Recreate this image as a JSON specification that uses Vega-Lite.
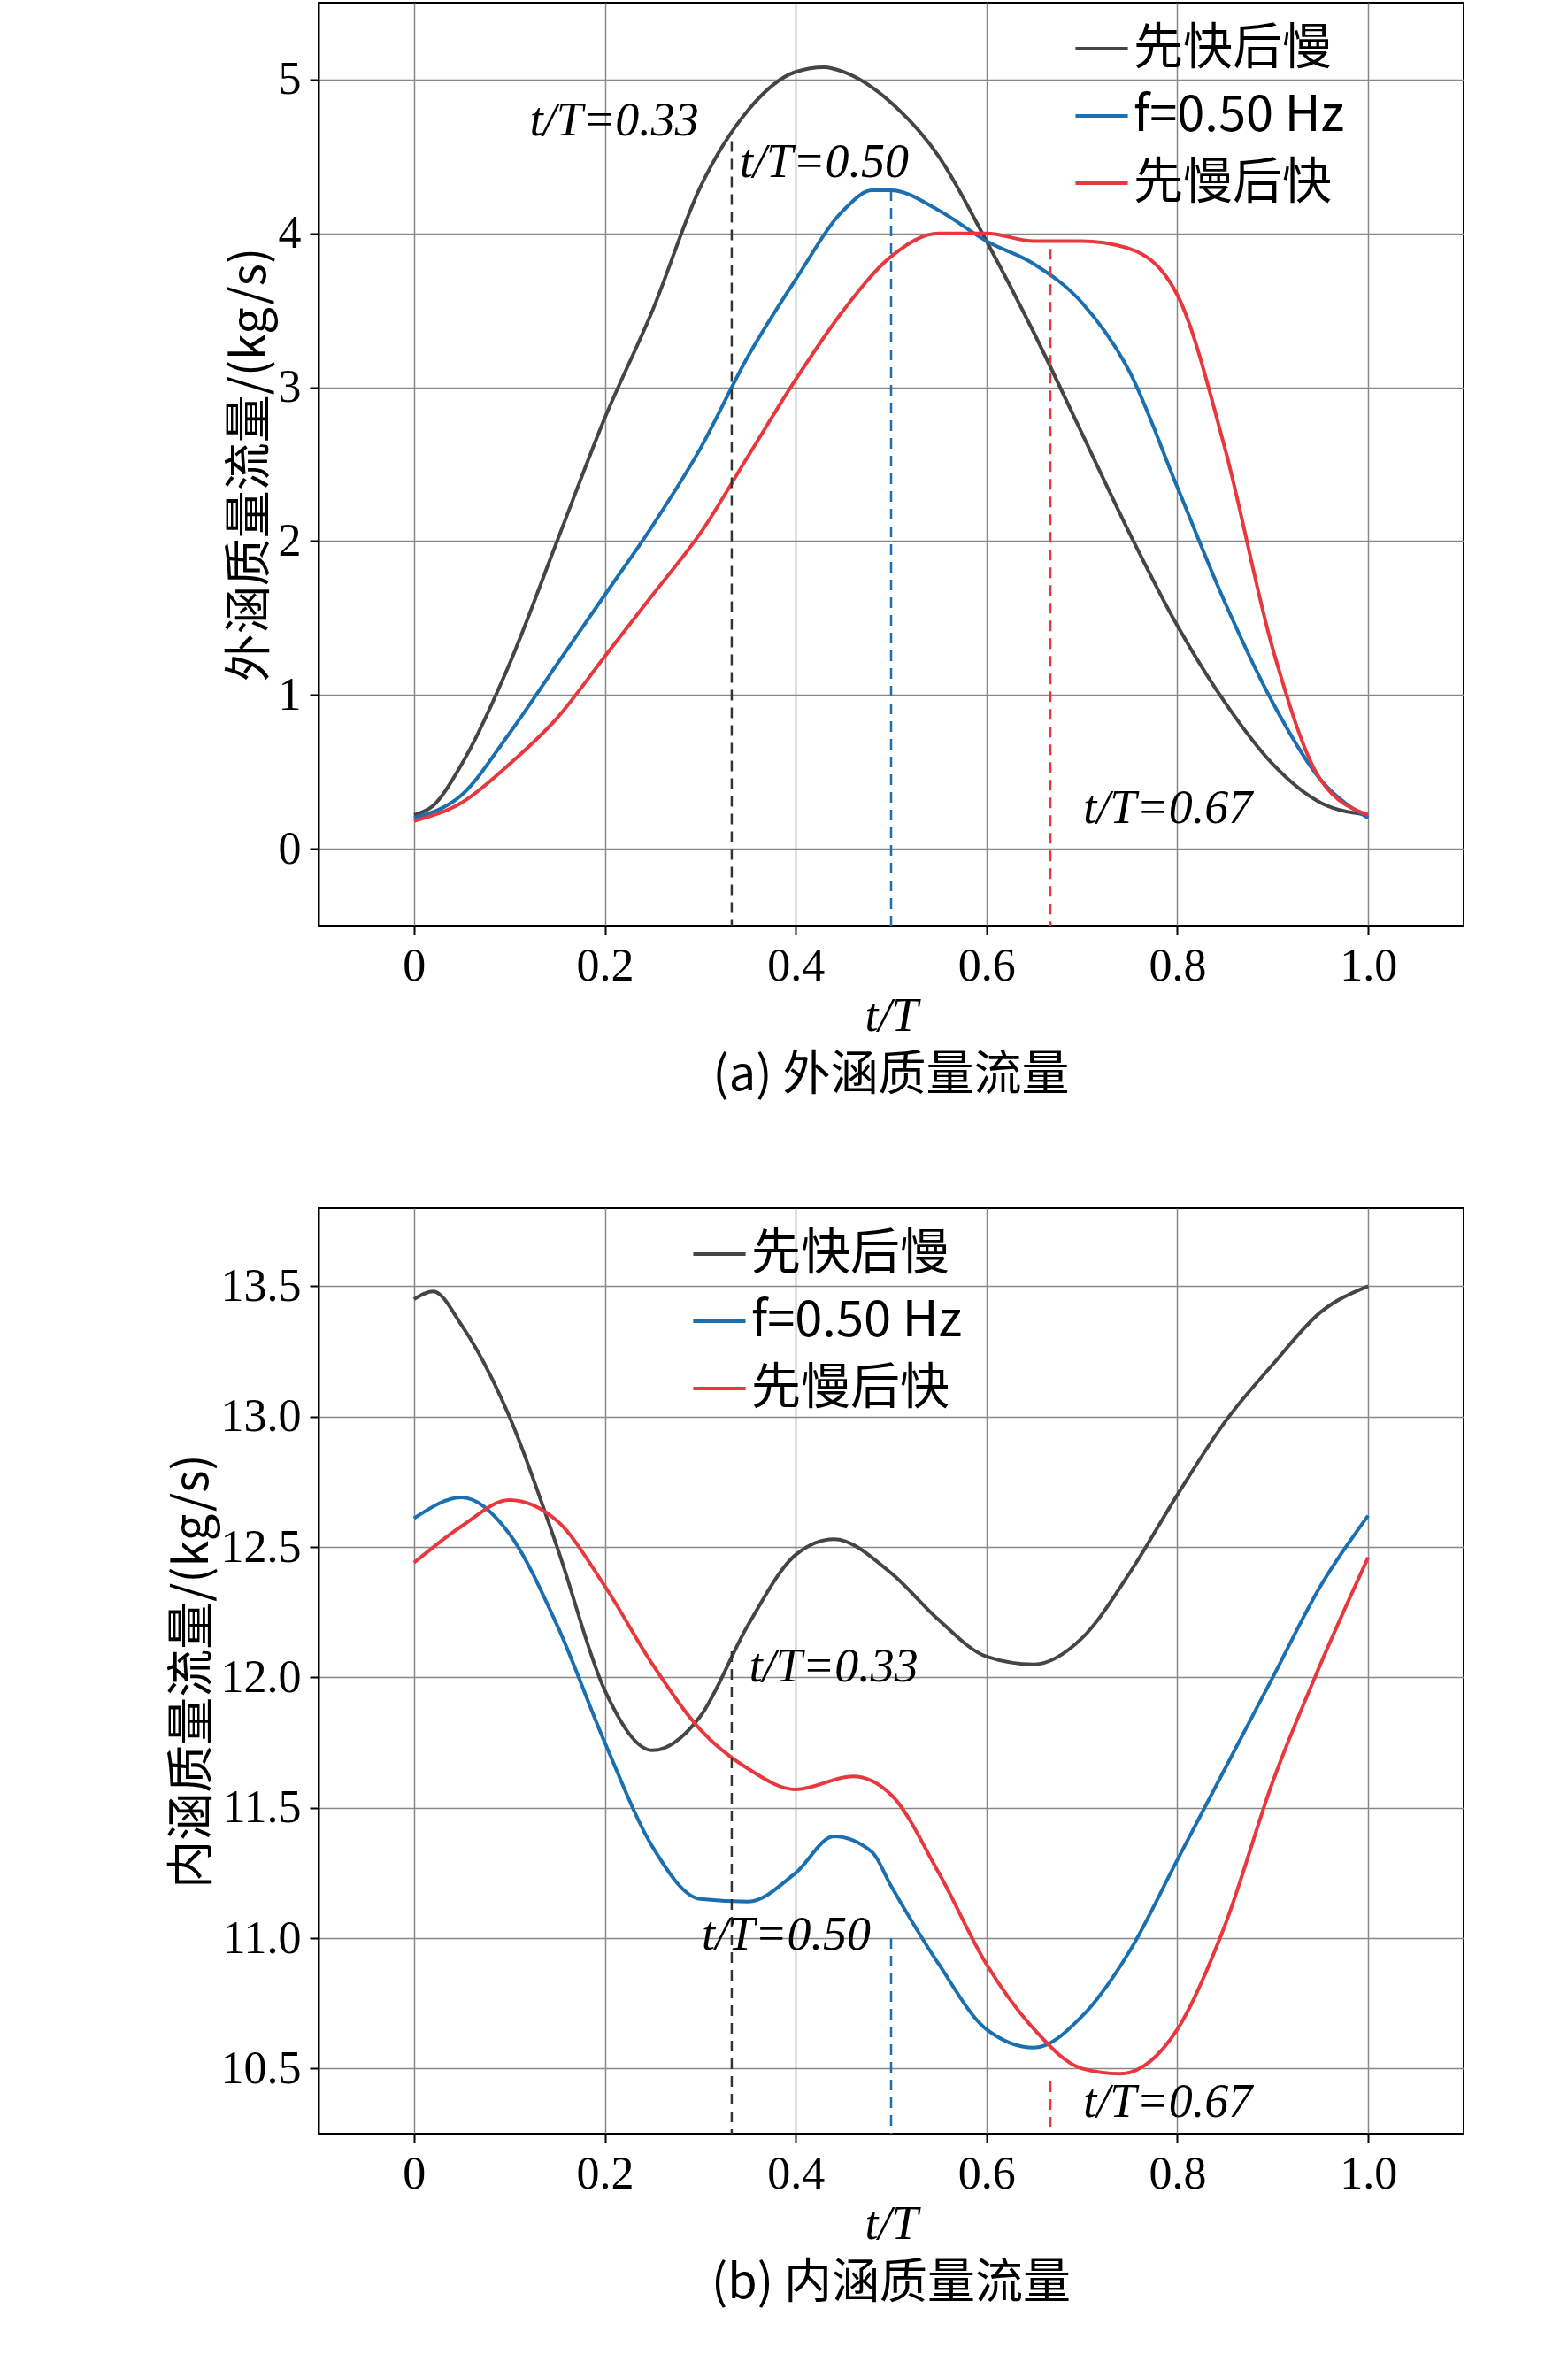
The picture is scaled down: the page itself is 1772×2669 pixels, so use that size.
{"$schema":"https://vega.github.io/schema/vega-lite/v6.json","background":"white","padding":{"left":190,"top":2,"right":10,"bottom":10},
"config":{"font":"Liberation Serif","view":{"stroke":"black","strokeWidth":2},
"axis":{"labelFont":"Liberation Serif","titleFont":"Liberation Serif","labelFontSize":52,"titleFontSize":54,"titleFontWeight":"normal","labelColor":"black","titleColor":"black","domainColor":"black","domainWidth":2,"tickColor":"black","tickWidth":2,"tickSize":10,"gridColor":"#999","gridWidth":1.5,"labelPadding":10},
"legend":{"labelFont":"Noto Sans CJK SC","labelFontSize":56,"labelColor":"black","symbolType":"stroke","symbolSize":3500,"symbolStrokeWidth":4,"rowPadding":16,"labelLimit":600},
"title":{"font":"Noto Sans CJK SC","fontSize":54,"fontWeight":"normal","color":"black","orient":"bottom","offset":14}},
"datasets":{
"a":[
{"s":"先快后慢","x":0,"y":0.22},{"s":"先快后慢","x":0.02,"y":0.28},{"s":"先快后慢","x":0.05,"y":0.55},{"s":"先快后慢","x":0.1,"y":1.2},{"s":"先快后慢","x":0.15,"y":2.0},{"s":"先快后慢","x":0.2,"y":2.8},{"s":"先快后慢","x":0.25,"y":3.5},{"s":"先快后慢","x":0.3,"y":4.3},{"s":"先快后慢","x":0.35,"y":4.8},{"s":"先快后慢","x":0.4,"y":5.05},{"s":"先快后慢","x":0.43,"y":5.08},{"s":"先快后慢","x":0.45,"y":5.05},{"s":"先快后慢","x":0.5,"y":4.85},{"s":"先快后慢","x":0.55,"y":4.5},{"s":"先快后慢","x":0.6,"y":3.95},{"s":"先快后慢","x":0.65,"y":3.35},{"s":"先快后慢","x":0.7,"y":2.7},{"s":"先快后慢","x":0.75,"y":2.05},{"s":"先快后慢","x":0.8,"y":1.45},{"s":"先快后慢","x":0.85,"y":0.95},{"s":"先快后慢","x":0.9,"y":0.55},{"s":"先快后慢","x":0.95,"y":0.3},{"s":"先快后慢","x":1.0,"y":0.22},
{"s":"f=0.50 Hz","x":0,"y":0.2},{"s":"f=0.50 Hz","x":0.05,"y":0.35},{"s":"f=0.50 Hz","x":0.1,"y":0.75},{"s":"f=0.50 Hz","x":0.15,"y":1.2},{"s":"f=0.50 Hz","x":0.2,"y":1.65},{"s":"f=0.50 Hz","x":0.25,"y":2.1},{"s":"f=0.50 Hz","x":0.3,"y":2.6},{"s":"f=0.50 Hz","x":0.35,"y":3.2},{"s":"f=0.50 Hz","x":0.4,"y":3.7},{"s":"f=0.50 Hz","x":0.45,"y":4.15},{"s":"f=0.50 Hz","x":0.48,"y":4.28},{"s":"f=0.50 Hz","x":0.5,"y":4.28},{"s":"f=0.50 Hz","x":0.55,"y":4.15},{"s":"f=0.50 Hz","x":0.6,"y":3.95},{"s":"f=0.50 Hz","x":0.65,"y":3.8},{"s":"f=0.50 Hz","x":0.7,"y":3.55},{"s":"f=0.50 Hz","x":0.75,"y":3.1},{"s":"f=0.50 Hz","x":0.8,"y":2.35},{"s":"f=0.50 Hz","x":0.85,"y":1.6},{"s":"f=0.50 Hz","x":0.9,"y":0.95},{"s":"f=0.50 Hz","x":0.95,"y":0.45},{"s":"f=0.50 Hz","x":1.0,"y":0.2},
{"s":"先慢后快","x":0,"y":0.18},{"s":"先慢后快","x":0.05,"y":0.3},{"s":"先慢后快","x":0.1,"y":0.55},{"s":"先慢后快","x":0.15,"y":0.85},{"s":"先慢后快","x":0.2,"y":1.25},{"s":"先慢后快","x":0.25,"y":1.65},{"s":"先慢后快","x":0.3,"y":2.05},{"s":"先慢后快","x":0.35,"y":2.55},{"s":"先慢后快","x":0.4,"y":3.05},{"s":"先慢后快","x":0.45,"y":3.5},{"s":"先慢后快","x":0.5,"y":3.85},{"s":"先慢后快","x":0.55,"y":4.0},{"s":"先慢后快","x":0.6,"y":4.0},{"s":"先慢后快","x":0.65,"y":3.95},{"s":"先慢后快","x":0.7,"y":3.95},{"s":"先慢后快","x":0.75,"y":3.9},{"s":"先慢后快","x":0.8,"y":3.6},{"s":"先慢后快","x":0.85,"y":2.6},{"s":"先慢后快","x":0.9,"y":1.3},{"s":"先慢后快","x":0.95,"y":0.45},{"s":"先慢后快","x":1.0,"y":0.22}],
"b":[
{"s":"先快后慢","x":0,"y":13.45},{"s":"先快后慢","x":0.02,"y":13.48},{"s":"先快后慢","x":0.05,"y":13.35},{"s":"先快后慢","x":0.1,"y":13.0},{"s":"先快后慢","x":0.15,"y":12.5},{"s":"先快后慢","x":0.2,"y":11.95},{"s":"先快后慢","x":0.25,"y":11.72},{"s":"先快后慢","x":0.3,"y":11.85},{"s":"先快后慢","x":0.35,"y":12.2},{"s":"先快后慢","x":0.4,"y":12.47},{"s":"先快后慢","x":0.44,"y":12.53},{"s":"先快后慢","x":0.5,"y":12.4},{"s":"先快后慢","x":0.55,"y":12.22},{"s":"先快后慢","x":0.6,"y":12.08},{"s":"先快后慢","x":0.65,"y":12.05},{"s":"先快后慢","x":0.7,"y":12.15},{"s":"先快后慢","x":0.75,"y":12.4},{"s":"先快后慢","x":0.8,"y":12.7},{"s":"先快后慢","x":0.85,"y":12.98},{"s":"先快后慢","x":0.9,"y":13.2},{"s":"先快后慢","x":0.95,"y":13.4},{"s":"先快后慢","x":1.0,"y":13.5},
{"s":"f=0.50 Hz","x":0,"y":12.61},{"s":"f=0.50 Hz","x":0.05,"y":12.69},{"s":"f=0.50 Hz","x":0.1,"y":12.55},{"s":"f=0.50 Hz","x":0.15,"y":12.2},{"s":"f=0.50 Hz","x":0.2,"y":11.75},{"s":"f=0.50 Hz","x":0.25,"y":11.35},{"s":"f=0.50 Hz","x":0.3,"y":11.15},{"s":"f=0.50 Hz","x":0.35,"y":11.14},{"s":"f=0.50 Hz","x":0.4,"y":11.25},{"s":"f=0.50 Hz","x":0.44,"y":11.39},{"s":"f=0.50 Hz","x":0.48,"y":11.33},{"s":"f=0.50 Hz","x":0.5,"y":11.2},{"s":"f=0.50 Hz","x":0.55,"y":10.9},{"s":"f=0.50 Hz","x":0.6,"y":10.65},{"s":"f=0.50 Hz","x":0.65,"y":10.58},{"s":"f=0.50 Hz","x":0.7,"y":10.7},{"s":"f=0.50 Hz","x":0.75,"y":10.95},{"s":"f=0.50 Hz","x":0.8,"y":11.3},{"s":"f=0.50 Hz","x":0.85,"y":11.65},{"s":"f=0.50 Hz","x":0.9,"y":12.0},{"s":"f=0.50 Hz","x":0.95,"y":12.35},{"s":"f=0.50 Hz","x":1.0,"y":12.62},
{"s":"先慢后快","x":0,"y":12.44},{"s":"先慢后快","x":0.05,"y":12.58},{"s":"先慢后快","x":0.1,"y":12.68},{"s":"先慢后快","x":0.15,"y":12.6},{"s":"先慢后快","x":0.2,"y":12.35},{"s":"先慢后快","x":0.25,"y":12.05},{"s":"先慢后快","x":0.3,"y":11.8},{"s":"先慢后快","x":0.35,"y":11.65},{"s":"先慢后快","x":0.4,"y":11.57},{"s":"先慢后快","x":0.46,"y":11.62},{"s":"先慢后快","x":0.5,"y":11.55},{"s":"先慢后快","x":0.55,"y":11.25},{"s":"先慢后快","x":0.6,"y":10.9},{"s":"先慢后快","x":0.65,"y":10.65},{"s":"先慢后快","x":0.7,"y":10.5},{"s":"先慢后快","x":0.74,"y":10.48},{"s":"先慢后快","x":0.8,"y":10.65},{"s":"先慢后快","x":0.85,"y":11.05},{"s":"先慢后快","x":0.9,"y":11.6},{"s":"先慢后快","x":0.95,"y":12.05},{"s":"先慢后快","x":1.0,"y":12.46}],
"ra":[{"x":0.333,"y":4.6,"y2":-0.5,"c":"k"},{"x":0.5,"y":4.28,"y2":-0.5,"c":"b"},{"x":0.667,"y":3.9,"y2":-0.5,"c":"r"}],
"rb":[{"x":0.333,"y":12.1,"y2":10.25,"c":"k"},{"x":0.5,"y":11.0,"y2":10.25,"c":"b"},{"x":0.667,"y":10.45,"y2":10.25,"c":"r"}],
"ta":[{"x":0.21,"y":4.73,"t":"t/T=0.33"},{"x":0.43,"y":4.46,"t":"t/T=0.50"},{"x":0.79,"y":0.26,"t":"t/T=0.67"}],
"tb":[{"x":0.44,"y":12.04,"t":"t/T=0.33"},{"x":0.39,"y":11.01,"t":"t/T=0.50"},{"x":0.79,"y":10.37,"t":"t/T=0.67"}]},
"vconcat":[
{"width":1294,"height":1043,"title":"(a) 外涵质量流量","layer":[
{"data":{"name":"a"},"mark":{"type":"line","strokeWidth":4,"interpolate":"monotone"},"encoding":{
"x":{"field":"x","type":"quantitative","scale":{"domain":[-0.1,1.1],"nice":false},"axis":{"values":[0,0.2,0.4,0.6,0.8,1.0],"labelExpr":"datum.value==0?'0':format(datum.value,'.1f')","title":"t/T","titleFontStyle":"italic","gridColor":"#888"}},
"y":{"field":"y","type":"quantitative","scale":{"domain":[-0.5,5.5],"nice":false},"axis":{"values":[0,1,2,3,4,5],"format":"d","title":"外涵质量流量/(kg/s)","titleFont":"Noto Sans CJK SC","gridColor":"#888"}},
"color":{"field":"s","type":"nominal","sort":["先快后慢","f=0.50 Hz","先慢后快"],"scale":{"domain":["先快后慢","f=0.50 Hz","先慢后快"],"range":["#454545","#1a6fb0","#e8383d"]},"legend":{"title":null,"orient":"none","legendX":853,"legendY":20}}}},
{"data":{"name":"ra"},"mark":{"type":"rule","strokeWidth":2.5,"strokeDash":[12,8]},"encoding":{"x":{"field":"x","type":"quantitative"},"y":{"field":"y","type":"quantitative"},"y2":{"field":"y2"},"color":{"field":"c","type":"nominal","scale":{"domain":["k","b","r"],"range":["#333","#1a6fb0","#e8383d"]},"legend":null}}},
{"data":{"name":"ta"},"mark":{"type":"text","fontSize":54,"font":"Liberation Serif","fontStyle":"italic","color":"black"},"encoding":{"x":{"field":"x","type":"quantitative"},"y":{"field":"y","type":"quantitative"},"text":{"field":"t"}}}],
"resolve":{"scale":{"color":"independent"}}},
{"width":1294,"height":1046,"title":"(b) 内涵质量流量","layer":[
{"data":{"name":"b"},"mark":{"type":"line","strokeWidth":4,"interpolate":"monotone"},"encoding":{
"x":{"field":"x","type":"quantitative","scale":{"domain":[-0.1,1.1],"nice":false},"axis":{"values":[0,0.2,0.4,0.6,0.8,1.0],"labelExpr":"datum.value==0?'0':format(datum.value,'.1f')","title":"t/T","titleFontStyle":"italic","gridColor":"#888"}},
"y":{"field":"y","type":"quantitative","scale":{"domain":[10.25,13.8],"nice":false,"zero":false},"axis":{"values":[10.5,11,11.5,12,12.5,13,13.5],"format":".1f","title":"内涵质量流量/(kg/s)","titleFont":"Noto Sans CJK SC","gridColor":"#888"}},
"color":{"field":"s","type":"nominal","sort":["先快后慢","f=0.50 Hz","先慢后快"],"scale":{"domain":["先快后慢","f=0.50 Hz","先慢后快"],"range":["#454545","#1a6fb0","#e8383d"]},"legend":{"title":null,"orient":"none","legendX":421,"legendY":20}}}},
{"data":{"name":"rb"},"mark":{"type":"rule","strokeWidth":2.5,"strokeDash":[12,8]},"encoding":{"x":{"field":"x","type":"quantitative"},"y":{"field":"y","type":"quantitative"},"y2":{"field":"y2"},"color":{"field":"c","type":"nominal","scale":{"domain":["k","b","r"],"range":["#333","#1a6fb0","#e8383d"]},"legend":null}}},
{"data":{"name":"tb"},"mark":{"type":"text","fontSize":54,"font":"Liberation Serif","fontStyle":"italic","color":"black"},"encoding":{"x":{"field":"x","type":"quantitative"},"y":{"field":"y","type":"quantitative"},"text":{"field":"t"}}}],
"resolve":{"scale":{"color":"independent"}}}],
"spacing":120}
